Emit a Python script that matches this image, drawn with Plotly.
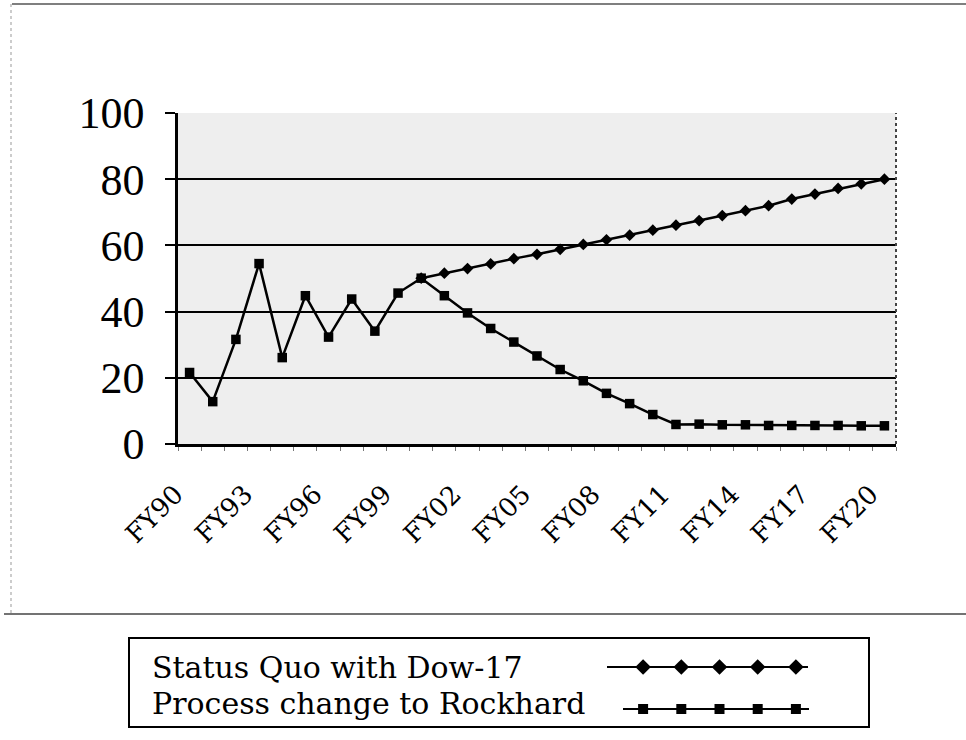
import plotly.graph_objects as go

# ---------------- data ----------------
years = ["FY%02d" % (y % 100) for y in range(1990, 2021)]
tick_labels = ["FY90", "FY93", "FY96", "FY99", "FY02", "FY05", "FY08", "FY11", "FY14", "FY17", "FY20"]

status_quo = [None, None, None, None, None, None, None, None, None, None,
              50.1, 51.6, 53.0, 54.4, 56.0, 57.3, 58.8, 60.3, 61.7, 63.1,
              64.6, 66.1, 67.5, 69.0, 70.5, 72.0, 74.0, 75.5, 77.2, 78.6, 80.0]
rockhard = [21.6, 12.8, 31.6, 54.5, 26.1, 44.8, 32.3, 43.8, 34.1, 45.6,
            50.1, 44.8, 39.6, 34.9, 30.8, 26.6, 22.5, 19.1, 15.3, 12.2,
            8.9, 5.9, 6.0, 5.8, 5.8, 5.6, 5.6, 5.6, 5.6, 5.5, 5.5]
series_names = ["Status Quo with Dow-17", "Process change to Rockhard"]
y_ticks = [0, 20, 40, 60, 80, 100]
legend_slots = [0, 1, 2, 3, 4]

# ---------------- geometry helpers (pixel -> figure fraction) ----------------
W, H = 966, 740
L, R, T, B = 178, 896, 113, 444


def fx(x):
    return x / W


def fy(y):
    return (H - y) / H


SERIF = "DejaVu Serif"

fig = go.Figure()

fig.add_trace(go.Scatter(
    x=years, y=status_quo, name=series_names[0], mode="lines+markers",
    line=dict(color="black", width=2.5),
    marker=dict(symbol="diamond", size=9, color="black"),
    showlegend=False, connectgaps=False))
fig.add_trace(go.Scatter(
    x=years, y=rockhard, name=series_names[1], mode="lines+markers",
    line=dict(color="black", width=2.5),
    marker=dict(symbol="square", size=9.5, color="black"),
    showlegend=False))

# legend sample markers on an auxiliary axis
fig.add_trace(go.Scatter(
    x=legend_slots, y=[0] * len(legend_slots), mode="markers",
    xaxis="x2", yaxis="y2", cliponaxis=False,
    marker=dict(symbol="diamond", size=12, color="black"), showlegend=False,
    hoverinfo="skip"))
fig.add_trace(go.Scatter(
    x=legend_slots, y=[1] * len(legend_slots), mode="markers",
    xaxis="x2", yaxis="y2", cliponaxis=False,
    marker=dict(symbol="square", size=10, color="black"), showlegend=False,
    hoverinfo="skip"))

ticktext = [y if y in tick_labels else "" for y in years]

fig.update_layout(
    width=W, height=H,
    margin=dict(l=0, r=0, t=0, b=0),
    paper_bgcolor="white",
    plot_bgcolor="white",
    font=dict(family=SERIF, color="black"),
    xaxis=dict(
        domain=[fx(L), fx(R)], anchor="y",
        type="category", categoryorder="array", categoryarray=years,
        range=[-0.5, 30.5],
        tickmode="array", tickvals=years, ticktext=ticktext,
        tickangle=-45, tickfont=dict(family=SERIF, size=26),
        tickson="boundaries", ticks="outside", ticklen=4, tickwidth=1,
        tickcolor="#777", ticklabelstandoff=22, ticklabelshift=-14,
        showgrid=False, zeroline=False, automargin=False,
        showline=True, linecolor="black", linewidth=2.5,
    ),
    yaxis=dict(
        domain=[fy(B), fy(T)], anchor="x",
        range=[0, 100], tickmode="array", tickvals=y_ticks,
        tickfont=dict(family="Liberation Serif", size=44),
        ticks="outside", ticklen=10, tickwidth=2, tickcolor="black",
        ticklabelstandoff=12, automargin=False,
        showgrid=True, gridcolor="black", gridwidth=2,
        zeroline=False, showline=True, linecolor="black", linewidth=2.5,
    ),
    xaxis2=dict(domain=[fx(624), fx(815)], range=[-0.5, 4.5], visible=False,
                anchor="y2", fixedrange=True),
    yaxis2=dict(domain=[fy(720), fy(656)], range=[1.262, -0.262],
                visible=False, anchor="x2", fixedrange=True),
)

shapes = [
    # plot-area fill (stippled grey look)
    dict(type="rect", xref="paper", yref="paper", x0=fx(L), x1=fx(R),
         y0=fy(B), y1=fy(T), fillcolor="#eeeeee", line=dict(width=0),
         layer="below"),
    # right edge of plot area (dotted)
    dict(type="line", xref="paper", yref="paper", x0=fx(R), x1=fx(R),
         y0=fy(B), y1=fy(T), line=dict(color="#444", width=2, dash="dot")),
    # outer frame (chart area)
    dict(type="line", xref="paper", yref="paper", x0=fx(12), x1=fx(966),
         y0=fy(4), y1=fy(4), line=dict(color="#555", width=1.5)),
    dict(type="line", xref="paper", yref="paper", x0=fx(4), x1=fx(966),
         y0=fy(614), y1=fy(614), line=dict(color="#444", width=1.5)),
    dict(type="line", xref="paper", yref="paper", x0=fx(11), x1=fx(11),
         y0=fy(4), y1=fy(614), line=dict(color="#999", width=1, dash="dot")),
    # legend box
    dict(type="rect", xref="paper", yref="paper", x0=fx(129), x1=fx(869),
         y0=fy(727), y1=fy(638), line=dict(color="black", width=2),
         fillcolor="rgba(0,0,0,0)"),
    # legend sample lines
    dict(type="line", xref="paper", yref="paper", x0=fx(607), x1=fx(808),
         y0=fy(667), y1=fy(667), line=dict(color="black", width=2)),
    dict(type="line", xref="paper", yref="paper", x0=fx(623), x1=fx(809),
         y0=fy(709), y1=fy(709), line=dict(color="black", width=2)),
]
fig.update_layout(shapes=shapes)

fig.add_annotation(text=series_names[0], xref="paper", yref="paper",
                   x=fx(150), y=fy(667), xanchor="left", yanchor="middle",
                   showarrow=False, font=dict(family=SERIF, size=30))
fig.add_annotation(text=series_names[1], xref="paper", yref="paper",
                   x=fx(150), y=fy(703), xanchor="left", yanchor="middle",
                   showarrow=False, font=dict(family=SERIF, size=30))

fig.write_html("out.html",
               config={"displayModeBar": False},
               post_script="document.body.style.margin='0';"
                           "document.body.style.overflow='hidden';")
